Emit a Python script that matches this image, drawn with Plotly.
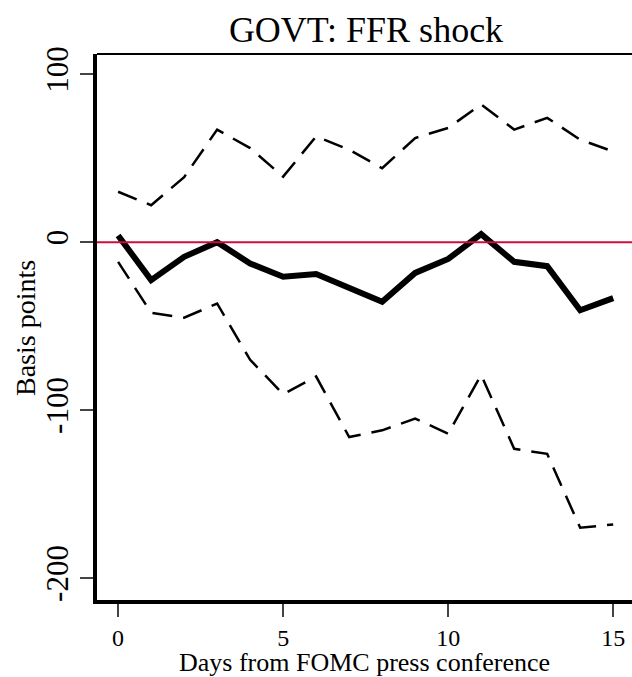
import plotly.graph_objects as go

days = list(range(16))
point_est = [4, -22.6, -8.7, 0, -12.7, -20.6, -19, -27.4, -35.5, -18.3, -10, 4.8, -11.7, -14.3, -40.5, -33.3]
upper_band = [30, 22, 38.7, 67, 56, 39, 63, 55, 44, 62, 68, 82, 67, 74, 61, 54]
lower_band = [-11.7, -42, -45, -36.5, -70, -90.5, -80, -116, -112, -105, -114, -79, -123, -126, -170, -168]
x_ticks = [0, 5, 10, 15]
y_ticks = [-200, -100, 0, 100]
y_tick_labels = ["-200", "-100", "0", "100"]

FONT = "Liberation Serif"
W, H = 632, 677
ML, MR, MT, MB = 97, 0, 54, 77

fig = go.Figure()
fig.add_trace(go.Scatter(x=days, y=upper_band, mode="lines",
                         line=dict(color="black", width=2.5, dash="20px,11px"), showlegend=False))
fig.add_trace(go.Scatter(x=days, y=lower_band, mode="lines",
                         line=dict(color="black", width=2.5, dash="20px,11px"), showlegend=False))
fig.add_hline(y=0, line=dict(color="#C8103E", width=2))
fig.add_trace(go.Scatter(x=days, y=point_est, mode="lines",
                         line=dict(color="black", width=6), showlegend=False))

# top border of the box
fig.add_shape(type="line", xref="paper", yref="paper", x0=0, x1=1, y0=1, y1=1,
              line=dict(color="black", width=2))

fig.update_layout(
    width=W, height=H,
    margin=dict(l=ML, r=MR, t=MT, b=MB, autoexpand=False),
    paper_bgcolor="white", plot_bgcolor="white",
    font=dict(family=FONT, color="black"),
    title=dict(text="GOVT: FFR shock", x=366 / W, xanchor="center", xref="container",
               y=1 - 29 / H, yanchor="middle", yref="container",
               font=dict(size=36, family=FONT)),
    annotations=[
        dict(text="Days from FOMC press conference", xref="paper", yref="paper",
             x=0.5, y=0, yshift=-(662 - (H - MB)), xanchor="center", yanchor="middle",
             showarrow=False, font=dict(size=26, family=FONT)),
        dict(text="Basis points", xref="paper", yref="paper",
             x=0, xshift=-(ML - 25), y=(H - MB - 328) / (H - MT - MB), xanchor="center", yanchor="middle",
             textangle=-90, showarrow=False, font=dict(size=28, family=FONT)),
    ],
)
fig.update_xaxes(range=[-0.64, 15.57], tickvals=x_ticks, ticks="outside", ticklen=13, tickwidth=2,
                 showline=True, linewidth=3.5, linecolor="black", showgrid=False, zeroline=False,
                 automargin=False, tickfont=dict(size=24, family=FONT))
fig.update_yaxes(range=[-213, 112], tickvals=y_ticks, ticktext=y_tick_labels,
                 ticks="outside", ticklen=13, tickwidth=2,
                 showline=True, linewidth=3.5, linecolor="black", showgrid=False, zeroline=False,
                 automargin=False, tickangle=-90, ticklabelstandoff=0,
                 tickfont=dict(size=31, family=FONT))

fig.write_html("out.html", config={"displayModeBar": False},
               post_script="document.body.style.margin='0';document.body.style.overflow='hidden';")
